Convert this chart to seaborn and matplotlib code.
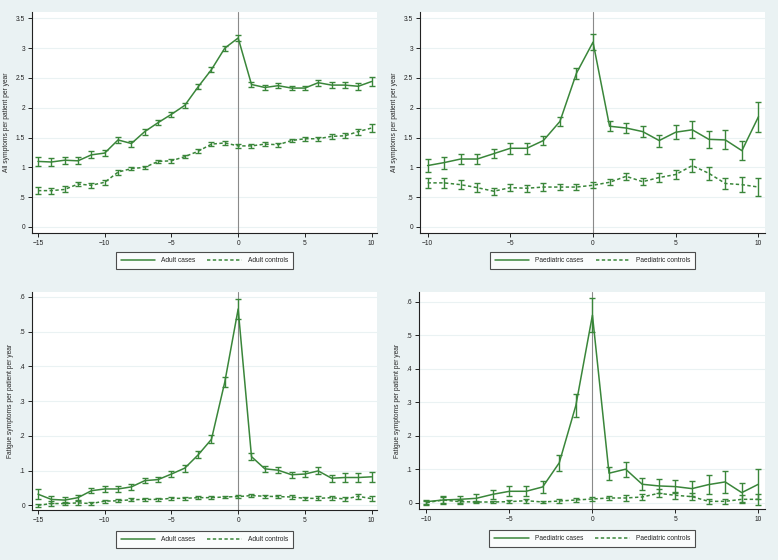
import matplotlib
matplotlib.use("Agg")
import matplotlib.pyplot as plt
import pandas as pd
import seaborn as sns
from matplotlib.ticker import FuncFormatter

# years relative to diagnosis
years_adult = list(range(-15, 11))
years_paed = list(range(-10, 11))

# all symptoms, adults
adult_all_cases = [1.10, 1.09, 1.12, 1.11, 1.21, 1.24, 1.46, 1.40, 1.60, 1.75, 1.89, 2.04, 2.35,
                   2.64, 3.00, 3.17, 2.39, 2.34, 2.37, 2.33, 2.33, 2.42, 2.38, 2.38, 2.36, 2.44]
adult_all_cases_err = [0.08, 0.07, 0.06, 0.06, 0.06, 0.05, 0.05, 0.05, 0.05, 0.04, 0.04, 0.04, 0.04,
                       0.04, 0.04, 0.05, 0.04, 0.04, 0.04, 0.04, 0.04, 0.05, 0.05, 0.05, 0.06, 0.08]
adult_all_ctrl = [0.61, 0.61, 0.63, 0.72, 0.70, 0.75, 0.92, 0.98, 1.00, 1.10, 1.11, 1.18, 1.27,
                  1.39, 1.41, 1.36, 1.36, 1.39, 1.38, 1.45, 1.48, 1.48, 1.52, 1.53, 1.60, 1.66]
adult_all_ctrl_err = [0.06, 0.05, 0.05, 0.04, 0.04, 0.04, 0.04, 0.03, 0.03, 0.03, 0.03, 0.03, 0.03,
                      0.03, 0.03, 0.03, 0.03, 0.03, 0.03, 0.03, 0.03, 0.03, 0.04, 0.04, 0.05, 0.06]

# all symptoms, paediatric
paed_all_cases = [1.03, 1.08, 1.14, 1.14, 1.23, 1.32, 1.32, 1.45, 1.77, 2.58, 3.10,
                  1.69, 1.66, 1.60, 1.45, 1.59, 1.63, 1.47, 1.46, 1.28, 1.85]
paed_all_cases_err = [0.11, 0.10, 0.09, 0.08, 0.08, 0.09, 0.09, 0.08, 0.08, 0.09, 0.13,
                      0.08, 0.08, 0.09, 0.10, 0.12, 0.14, 0.14, 0.16, 0.16, 0.25]
paed_all_ctrl = [0.74, 0.74, 0.71, 0.66, 0.60, 0.66, 0.65, 0.67, 0.67, 0.67, 0.70,
                 0.75, 0.85, 0.76, 0.83, 0.88, 1.03, 0.90, 0.73, 0.71, 0.67]
paed_all_ctrl_err = [0.09, 0.08, 0.08, 0.07, 0.06, 0.06, 0.06, 0.06, 0.05, 0.05, 0.05,
                     0.05, 0.06, 0.06, 0.07, 0.08, 0.11, 0.11, 0.10, 0.13, 0.15]

# fatigue symptoms, adults
adult_fat_cases = [0.032, 0.017, 0.015, 0.022, 0.042, 0.047, 0.047, 0.053, 0.071, 0.074, 0.090,
                   0.107, 0.145, 0.190, 0.355, 0.565, 0.140, 0.105, 0.101, 0.088, 0.090, 0.099,
                   0.078, 0.080, 0.080, 0.082]
adult_fat_cases_err = [0.015, 0.010, 0.008, 0.008, 0.008, 0.008, 0.008, 0.008, 0.008, 0.008, 0.008,
                       0.010, 0.010, 0.012, 0.015, 0.030, 0.010, 0.008, 0.008, 0.008, 0.009, 0.010,
                       0.010, 0.012, 0.013, 0.014]
adult_fat_ctrl = [0.000, 0.005, 0.005, 0.007, 0.005, 0.012, 0.013, 0.016, 0.017, 0.017, 0.020,
                  0.020, 0.022, 0.022, 0.024, 0.025, 0.028, 0.026, 0.025, 0.024, 0.020, 0.020,
                  0.022, 0.018, 0.026, 0.019]
adult_fat_ctrl_err = [0.004, 0.006, 0.005, 0.005, 0.004, 0.004, 0.004, 0.004, 0.004, 0.004, 0.004,
                      0.004, 0.004, 0.004, 0.004, 0.004, 0.004, 0.004, 0.004, 0.005, 0.005, 0.006,
                      0.006, 0.007, 0.007, 0.008]

# fatigue symptoms, paediatric
paed_fat_cases = [0.003, 0.008, 0.010, 0.013, 0.025, 0.034, 0.034, 0.047, 0.119, 0.290, 0.560,
                  0.088, 0.100, 0.055, 0.050, 0.048, 0.042, 0.054, 0.062, 0.030, 0.055]
paed_fat_cases_err = [0.006, 0.012, 0.010, 0.012, 0.013, 0.015, 0.015, 0.017, 0.023, 0.035, 0.050,
                      0.020, 0.022, 0.018, 0.020, 0.020, 0.022, 0.028, 0.034, 0.028, 0.045]
paed_fat_ctrl = [0.000, 0.008, 0.003, 0.002, 0.002, 0.003, 0.006, 0.002, 0.005, 0.008, 0.011,
                 0.014, 0.014, 0.017, 0.028, 0.022, 0.018, 0.004, 0.004, 0.010, 0.010]
paed_fat_ctrl_err = [0.006, 0.008, 0.006, 0.004, 0.003, 0.005, 0.006, 0.003, 0.005, 0.006, 0.007,
                     0.007, 0.008, 0.010, 0.012, 0.010, 0.010, 0.008, 0.008, 0.012, 0.016]

GREEN = "#3a863a"
BG = "#eaf2f3"

sns.set_style("white")
plt.rcParams["font.family"] = ["Liberation Sans", "DejaVu Sans"]


def no_lead_zero(v, pos):
    s = f"{v:g}"
    if s.startswith("0."):
        s = s[1:]
    return s


def panel(fig, rect, years, cases, cases_err, ctrl, ctrl_err, group, ylabel, yticks, ylim, leg_y):
    ax = fig.add_axes(rect)
    ax.set_facecolor("white")
    df = pd.DataFrame({
        "year": years * 2,
        "value": cases + ctrl,
        "err": cases_err + ctrl_err,
        "group": [f"{group} cases"] * len(years) + [f"{group} controls"] * len(years),
    })
    for yt in yticks:
        ax.axhline(yt, color=BG, lw=0.8, zorder=0)
    ax.axvline(0, color="#8a8a8a", lw=0.8, zorder=1)
    sns.lineplot(data=df, x="year", y="value", hue="group", style="group",
                 palette=[GREEN, GREEN], dashes=["", (2.2, 1.6)], linewidth=1.1, ax=ax, zorder=3)
    for name, sub in df.groupby("group", sort=False):
        ax.errorbar(sub["year"], sub["value"], yerr=sub["err"], fmt="none",
                    ecolor=GREEN, elinewidth=1.0, capsize=2.2, capthick=1.0, zorder=4)
    ax.set_xlim(years[0] - 0.45, years[-1] + 0.4)
    ax.set_ylim(*ylim)
    ax.set_xticks(range(years[0], years[-1] + 1, 5))
    ax.set_yticks(yticks)
    ax.yaxis.set_major_formatter(FuncFormatter(no_lead_zero))
    ax.tick_params(axis="both", labelsize=4.8, length=3, width=0.7, pad=2,
                   direction="out", left=True, bottom=True, colors="#222222")
    ax.set_xlabel("")
    ax.set_ylabel(ylabel, fontsize=4.8, labelpad=4)
    for side in ("top", "right"):
        ax.spines[side].set_visible(False)
    for side in ("left", "bottom"):
        ax.spines[side].set_color("#222222")
        ax.spines[side].set_linewidth(0.8)
    handles, labels = ax.get_legend_handles_labels()
    leg = ax.legend(handles, labels, loc="upper center", bbox_to_anchor=(0.5, leg_y), ncol=2,
                    frameon=True, fancybox=False, edgecolor="#222222", fontsize=4.8,
                    handlelength=5.2, columnspacing=1.8, borderpad=0.7, handletextpad=0.9)
    leg.get_frame().set_linewidth(0.8)
    return ax


fig = plt.figure(figsize=(7.78, 5.6), dpi=100)
fig.patch.set_facecolor(BG)

top_ticks = [0, 0.5, 1, 1.5, 2, 2.5, 3, 3.5]
fat_ticks = [0, 0.1, 0.2, 0.3, 0.4, 0.5, 0.6]

panel(fig, [0.0411, 0.584, 0.4434, 0.3946], years_adult, adult_all_cases, adult_all_cases_err,
      adult_all_ctrl, adult_all_ctrl_err, "Adult", "All symptoms per patient per year",
      top_ticks, (-0.1, 3.606), -0.072)
panel(fig, [0.540, 0.584, 0.4434, 0.3946], years_paed, paed_all_cases, paed_all_cases_err,
      paed_all_ctrl, paed_all_ctrl_err, "Paediatric", "All symptoms per patient per year",
      top_ticks, (-0.1, 3.606), -0.072)
panel(fig, [0.0411, 0.0893, 0.4434, 0.389], years_adult, adult_fat_cases, adult_fat_cases_err,
      adult_fat_ctrl, adult_fat_ctrl_err, "Adult", "Fatigue symptoms per patient per year",
      fat_ticks, (-0.0135, 0.6135), -0.082)
panel(fig, [0.5386, 0.091, 0.4447, 0.3875], years_paed, paed_fat_cases, paed_fat_cases_err,
      paed_fat_ctrl, paed_fat_ctrl_err, "Paediatric", "Fatigue symptoms per patient per year",
      fat_ticks, (-0.019, 0.629), -0.082)

fig.savefig("out.png", dpi=100, facecolor=BG)
plt.close(fig)
